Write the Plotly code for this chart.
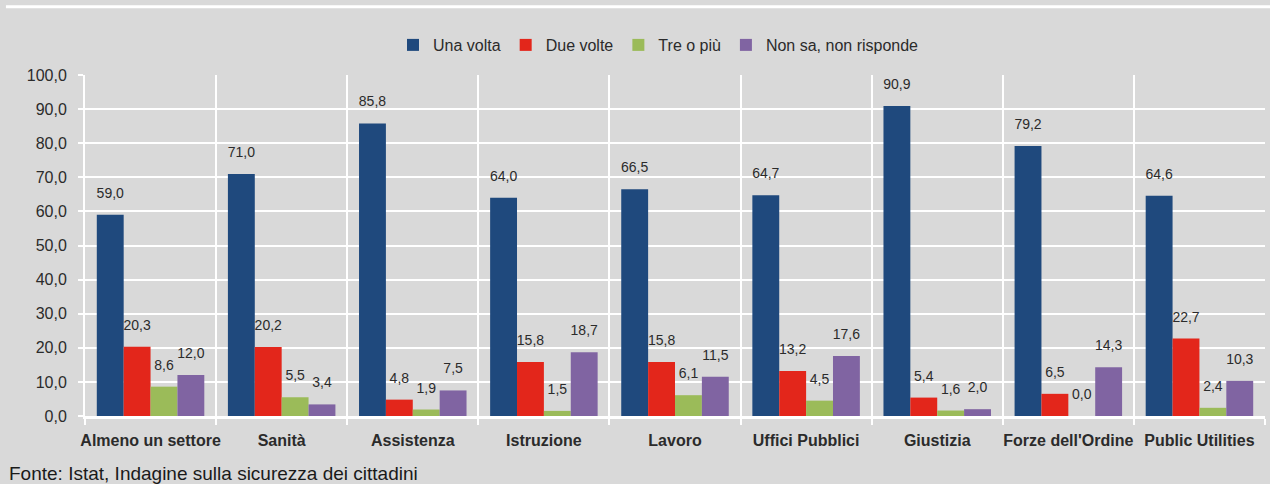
import plotly.graph_objects as go

categories = ["Almeno un settore", "Sanità", "Assistenza", "Istruzione", "Lavoro",
              "Uffici Pubblici", "Giustizia", "Forze dell'Ordine", "Public Utilities"]
series_names = ["Una volta", "Due volte", "Tre o più", "Non sa, non risponde"]
una_volta = [59.0, 71.0, 85.8, 64.0, 66.5, 64.7, 90.9, 79.2, 64.6]
due_volte = [20.3, 20.2, 4.8, 15.8, 15.8, 13.2, 5.4, 6.5, 22.7]
tre_o_piu = [8.6, 5.5, 1.9, 1.5, 6.1, 4.5, 1.6, 0.0, 2.4]
non_sa = [12.0, 3.4, 7.5, 18.7, 11.5, 17.6, 2.0, 14.3, 10.3]
colors = ["#1F497D", "#E3261B", "#9BBB59", "#8064A2"]
y_ticks = [0, 10, 20, 30, 40, 50, 60, 70, 80, 90, 100]
source_text = "Fonte: Istat, Indagine sulla sicurezza dei cittadini"

FONT = "Liberation Sans, Arial, sans-serif"
TXT = "#2B2B2B"
BG = "#D9D9D9"
GAP = 0.18

fig = go.Figure()
all_series = [una_volta, due_volte, tre_o_piu, non_sa]
for name, vals, col in zip(series_names, all_series, colors):
    fig.add_trace(go.Bar(
        x=categories, y=vals, name=name, offsetgroup=name,
        marker=dict(color=col, line=dict(width=0)),
    ))
# value labels, grouped like the bars
for name, vals in zip(series_names, all_series):
    fig.add_trace(go.Scatter(
        x=categories, y=vals, mode="markers+text", offsetgroup=name,
        marker=dict(size=20, color="rgba(0,0,0,0)"),
        texttemplate="%{y:.1f}", textposition="top center",
        textfont=dict(family=FONT, size=14, color=TXT),
        showlegend=False, hoverinfo="skip", cliponaxis=False,
    ))

fig.update_layout(
    width=1270, height=484,
    margin=dict(l=85, r=5, t=75, b=68, autoexpand=False),
    paper_bgcolor=BG, plot_bgcolor=BG,
    separators=",.",
    barmode="group", bargap=GAP, bargroupgap=0,
    scattermode="group", scattergap=GAP,
    font=dict(family=FONT, color=TXT),
    legend=dict(orientation="h", x=0.486, xanchor="center", y=1.088, yanchor="middle",
                font=dict(family=FONT, size=16, color=TXT), bgcolor="rgba(0,0,0,0)",
                itemwidth=30, tracegroupgap=0),
    xaxis=dict(type="category", tickson="boundaries", tickangle=0, automargin=False,
               showgrid=True, gridcolor="white", gridwidth=2,
               ticks="outside", ticklen=6, tickcolor="white", tickwidth=2,
               ticklabelstandoff=8,
               tickfont=dict(family=FONT, size=16, color=TXT, weight="bold"),
               showline=True, linecolor="white", linewidth=3, mirror=False),
    yaxis=dict(range=[0, 100], tickvals=y_ticks, tickformat=".1f", automargin=False,
               showgrid=True, gridcolor="white", gridwidth=2,
               ticks="outside", ticklen=5, tickcolor="white", tickwidth=2,
               showline=True, linecolor="white", linewidth=2, zeroline=False,
               tickfont=dict(family=FONT, size=16, color=TXT), ticklabelstandoff=8),
)

fig.add_shape(type="line", xref="paper", yref="paper", x0=-0.067, x1=1.01, y0=1.2, y1=1.2,
              line=dict(color="white", width=3))
fig.add_annotation(text=source_text, xref="paper", yref="paper", x=-0.066, y=-0.168,
                   xanchor="left", yanchor="middle", showarrow=False,
                   font=dict(family=FONT, size=19, color="#1A1A1A"))

fig.write_html("out.html", config={"displayModeBar": False}, post_script=(
    "document.body.style.margin='0';document.body.style.padding='0';"
    "document.body.style.background='%s';document.body.style.overflow='hidden';" % BG))
